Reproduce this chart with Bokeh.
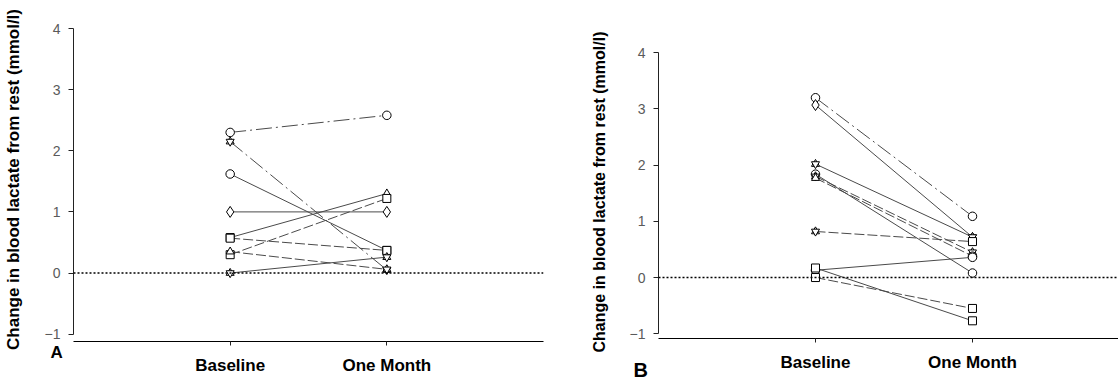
from bokeh.plotting import figure
from bokeh.layouts import row, column
from bokeh.models import FixedTicker, Span, Label, Range1d, ColumnDataSource
from bokeh.embed import file_html
from bokeh.resources import INLINE

# ---- data -------------------------------------------------------------
visits = ["Baseline", "One Month"]
y_ticks = [-1, 0, 1, 2, 3, 4]
y_title = "Change in blood lactate from rest (mmol/l)"

# Panel A: one entry per subject
a_baseline = [2.30, 2.15, 1.62, 1.00, 0.58, 0.57, 0.30, 0.35, 0.00]
a_month = [2.58, 0.05, 0.37, 1.00, 1.30, 0.37, 1.22, 0.06, 0.26]
a_marker_base = ["circle", "hexagram", "circle", "diamond", "square",
                 "square", "square", "triangle", "hexagram"]
a_marker_month = ["circle", "hexagram", "square", "diamond", "triangle",
                  "square", "square", "hexagram", "hexagram"]
a_style = ["dashdot", "dashdot", "solid", "solid", "solid",
           "dashed", "dashed", "dashed", "solid"]

# Panel B: one entry per subject
b_baseline = [3.20, 3.07, 2.02, 1.84, 1.80, 1.77, 0.82, 0.13, 0.17, 0.00]
b_month = [1.09, 0.72, 0.72, 0.08, 0.45, 0.38, 0.64, 0.36, -0.77, -0.55]
b_marker_base = ["circle", "diamond", "hexagram", "circle", "hexagram",
                 "triangle", "hexagram", "circle", "square", "square"]
b_marker_month = ["circle", "hexagram", "hexagram", "circle", "hexagram",
                  "circle", "square", "circle", "square", "square"]
b_style = ["dashdot", "solid", "solid", "solid", "dashed",
           "dashed", "dashed", "solid", "solid", "dashed"]

DASHES = {"solid": "solid", "dashed": "10 3", "dashdot": "16 4 2 4"}
SIZES = {"diamond": 11, "circle": 8.5, "square": 8, "triangle": 8,
         "inverted_triangle": 8}
FONT = "Liberation Sans"


def make_panel(base, month, mk_base, mk_month, styles, letter, cfg):
    x_pos = [i + 1 for i in range(len(visits))]
    p = figure(width=cfg["width"], height=cfg["height"],
               x_range=Range1d(0, cfg["x_end"]),
               y_range=Range1d(cfg["y_start"], cfg["y_end"]),
               output_backend="svg", toolbar_location=None,
               min_border_left=cfg["left"], min_border_right=cfg["right"],
               min_border_top=cfg["top"], min_border_bottom=cfg["bottom"])
    p.outline_line_color = None
    p.xgrid.visible = False
    p.ygrid.visible = False
    p.background_fill_color = "white"

    # zero reference line
    p.add_layout(Span(location=0, dimension="width", line_color="black",
                      line_width=1.5, line_dash="2 2"))

    # subject trajectories
    for b, m, s in zip(base, month, styles):
        p.line(x_pos, [b, m], line_color="#4a4a4a", line_width=1,
               line_dash=DASHES[s])

    # markers (hexagram = up + down triangle)
    xs, ys, mks, szs = [], [], [], []
    for vals, mk_list, xp in ((base, mk_base, x_pos[0]),
                              (month, mk_month, x_pos[1])):
        for v, mk in zip(vals, mk_list):
            parts = ("triangle", "inverted_triangle") if mk == "hexagram" else (mk,)
            for part in parts:
                xs.append(xp); ys.append(v); mks.append(part)
                szs.append(SIZES[part])
    src = ColumnDataSource(dict(x=xs, y=ys, marker=mks, size=szs))
    p.scatter("x", "y", marker="marker", size="size", source=src,
              fill_color="white", line_color="black", line_width=1)

    # y axis
    ya = p.yaxis[0]
    ya.ticker = FixedTicker(ticks=y_ticks)
    ya.bounds = (y_ticks[0], y_ticks[-1])
    ya.minor_tick_line_color = None
    ya.major_tick_out = 5
    ya.major_tick_in = 0
    ya.major_label_standoff = 8
    ya.axis_line_color = "#222222"
    ya.major_tick_line_color = "#222222"
    ya.major_label_text_font = FONT
    ya.major_label_text_font_size = cfg["ytick_size"]
    ya.major_label_text_color = "#5a5a5a"
    ya.axis_label = y_title
    ya.axis_label_text_font = FONT
    ya.axis_label_text_font_style = "bold"
    ya.axis_label_text_font_size = cfg["ytitle_size"]
    ya.axis_label_text_color = "black"
    ya.axis_label_standoff = 19

    # x axis
    xa = p.xaxis[0]
    xa.ticker = FixedTicker(ticks=x_pos)
    xa.major_label_overrides = {xp: name for xp, name in zip(x_pos, visits)}
    xa.minor_tick_line_color = None
    xa.major_tick_out = 4
    xa.major_tick_in = 0
    xa.major_label_standoff = 10
    xa.axis_line_color = "black"
    xa.axis_line_width = 1.2
    xa.major_tick_line_color = "#222222"
    xa.major_label_text_font = FONT
    xa.major_label_text_font_style = "bold"
    xa.major_label_text_font_size = "17px"
    xa.major_label_text_color = "black"

    # panel letter, kept in a side panel so the frame does not clip it
    p.add_layout(Label(x=cfg["letter_x"], y=cfg["letter_y"],
                       x_units="screen", y_units="screen", text=letter,
                       text_font=FONT, text_font_style="bold",
                       text_font_size=cfg["letter_size"],
                       text_color="black", text_baseline="alphabetic"),
                 cfg["letter_side"])
    return p


pa = make_panel(a_baseline, a_month, a_marker_base, a_marker_month, a_style,
                "A",
                dict(width=560, height=383, x_end=3.0, y_start=-1.12,
                     y_end=4.18, left=73, right=17, top=17, bottom=42,
                     ytick_size="14px", ytitle_size="17px",
                     letter_x=-493, letter_y=-11, letter_size="17px",
                     letter_side="right"))

pb = make_panel(b_baseline, b_month, b_marker_base, b_marker_month, b_style,
                "B",
                dict(width=558, height=383, x_end=2.93, y_start=-1.085,
                     y_end=4.13, left=98, right=0, top=45, bottom=45,
                     ytick_size="14px", ytitle_size="16px",
                     letter_x=60, letter_y=-31, letter_size="20px",
                     letter_side="left"))

# each panel keeps its own frame geometry
layout = row(column(pa), column(pb))
open("out.html", "w").write(file_html(layout, INLINE))
